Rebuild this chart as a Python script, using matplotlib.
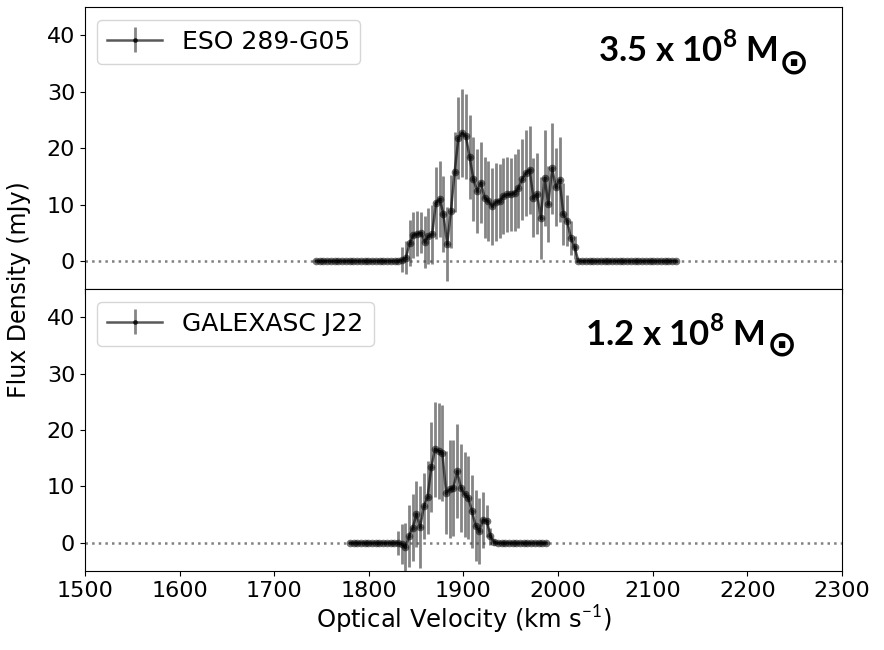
import numpy as np
import matplotlib.pyplot as plt

plt.rcParams['mathtext.fontset'] = 'custom'
plt.rcParams['mathtext.rm'] = 'Lato'
plt.rcParams['mathtext.bf'] = 'Lato:bold'

# ESO 289-G05 spectrum
eso_v0 = 1744.2
eso_dv = 3.96
eso_pad_lo = 23
eso_pad_hi = 27
eso_line = [0.2, 0.6, 3.2, 4.6, 4.8, 5.0, 3.4, 4.4, 4.7, 10.3,
            11.0, 8.3, 3.0, 8.8, 15.8, 21.8, 22.7, 22.1, 18.4, 14.5,
            12.4, 13.9, 11.2, 10.6, 9.7, 10.5, 10.6, 11.5, 11.8, 11.8,
            12.1, 12.9, 14.5, 15.6, 16.2, 11.2, 11.9, 7.6, 14.7, 10.1,
            16.4, 13.1, 14.4, 8.3, 7.1, 4.1, 2.4]
eso_line_err = [2.2, 2.9, 4.1, 4.0, 4.0, 3.6, 4.6, 5.0, 5.3, 6.4,
                6.8, 6.7, 6.6, 6.5, 7.1, 7.2, 7.8, 7.5, 7.5, 7.5,
                7.5, 7.2, 7.2, 7.1, 6.8, 6.9, 6.6, 6.8, 6.6, 6.5,
                6.8, 7.0, 7.2, 7.6, 7.8, 7.0, 7.2, 7.2, 8.5, 6.8,
                8.0, 7.0, 7.5, 5.5, 4.5, 3.0, 2.0]

# GALEXASC J22 spectrum
gal_v0 = 1780.0
gal_dv = 3.91
gal_pad_lo = 13
gal_pad_hi = 14
gal_line = [0.0, -0.2, -0.8, 1.2, 2.7, 5.1, 2.8, 6.5, 8.1, 13.4,
            16.6, 16.3, 16.0, 8.9, 9.5, 9.8, 12.7, 9.8, 8.6, 8.0,
            5.6, 3.0, 2.1, 4.1, 3.9, 1.2, 0.1]
gal_line_err = [2.1, 3.5, 4.3, 5.5, 5.9, 5.9, 7.2, 5.9, 6.5, 8.0,
                8.4, 8.5, 8.5, 7.3, 8.7, 8.5, 8.3, 7.8, 7.5, 7.4,
                6.5, 6.3, 5.9, 5.0, 2.8, 1.5, 0.5]

names = ["ESO 289-G05", "GALEXASC J22"]
masses = [r"3.5 x 10$^{\mathbf{8}}$ M", r"1.2 x 10$^{\mathbf{8}}$ M"]
sun = "\u2299"
xticks = [1500, 1600, 1700, 1800, 1900, 2000, 2100, 2200, 2300]
yticks = [0, 10, 20, 30, 40]


def build(v0, dv, lo, line, err, hi):
    flux = np.array([0.0] * lo + line + [0.0] * hi)
    ferr = np.array([0.0] * lo + err + [0.0] * hi)
    vel = v0 + dv * np.arange(len(flux))
    return vel, flux, ferr


spectra = [build(eso_v0, eso_dv, eso_pad_lo, eso_line, eso_line_err, eso_pad_hi),
           build(gal_v0, gal_dv, gal_pad_lo, gal_line, gal_line_err, gal_pad_hi)]

fig = plt.figure(figsize=(8.84, 6.5), dpi=100)
gs = fig.add_gridspec(2, 1, left=0.096, right=0.9525, top=0.989, bottom=0.1215, hspace=0)
# (text right edge, text centre, sun left edge, sun centre) in axes fraction
mass_pos = [(0.9155, 0.85, 0.917, 0.8), (0.898, 0.844, 0.9, 0.8)]

for i, (vel, flux, ferr) in enumerate(spectra):
    ax = fig.add_subplot(gs[i])
    ax.axhline(0, color='gray', ls=':', lw=1.8, zorder=1)
    ax.errorbar(vel, flux, yerr=ferr, fmt='.-', color='k', ecolor='#444444',
                elinewidth=2, lw=1.8, ms=5, alpha=0.65, label=names[i], zorder=3)
    ax.plot(vel, flux, 'o', ms=4.5, mfc='none', mec='k', mew=1.0, alpha=0.55, zorder=4)
    ax.set_xlim(1500, 2300)
    ax.set_ylim(-5, 45)
    ax.set_yticks(yticks)
    ax.set_xticks(xticks)
    ax.tick_params(labelsize=16)
    ax.legend(loc='upper left', fontsize=18, handlelength=2.2)
    tx, ty, sx, sy = mass_pos[i]
    ax.text(tx, ty, masses[i], transform=ax.transAxes,
            ha='right', va='center', fontsize=25, fontweight='bold', family='Lato')
    ax.text(sx, sy, sun, transform=ax.transAxes, ha='left', va='center',
            fontsize=26, fontweight='bold', family='DejaVu Sans')
    if i == 0:
        ax.tick_params(labelbottom=False)
    else:
        ax.set_xlabel(r"Optical Velocity (km s$^{-1}$)", fontsize=17.5, labelpad=2)

fig.text(0.022, 0.555, "Flux Density (mJy)", rotation=90, ha='center', va='center', fontsize=17)

fig.savefig("out.png", dpi=100)
